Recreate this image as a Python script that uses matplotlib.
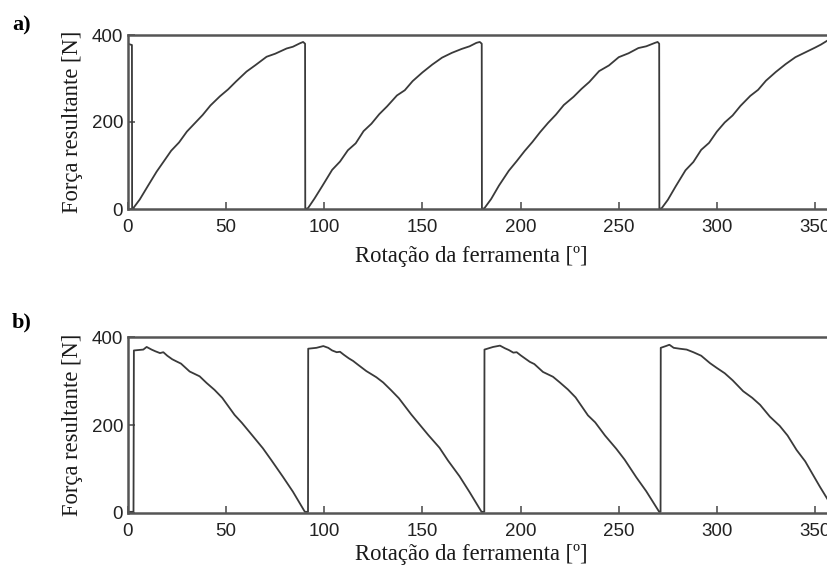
#!/usr/bin/env python3
"""Resultant force vs tool rotation, two milling cases (a, b)."""

import matplotlib
matplotlib.use("Agg")
import matplotlib.pyplot as plt

# panel a) - force rises over each 90 deg cycle, then drops
angle_a = [0.5, 2.0, 2.1, 2.7, 6, 10, 14.6, 18, 22, 26, 30, 34, 38, 42, 46.8, 51, 55,
           60.4, 65, 70.6, 75, 80.8, 84, 87.6, 89.2, 90.2, 90.3,
           91.7, 95, 99, 104, 108, 112, 116, 120, 124, 128, 132, 137, 141, 145,
           150, 155, 160, 165, 170, 174, 177.5, 179.2, 180.2, 180.3,
           181.6, 185, 189, 194, 198, 202, 206, 210, 214, 218, 222, 227, 231, 235,
           240, 245, 250, 255, 260, 264, 268.5, 269.8, 270.6, 270.7,
           271.9, 275, 279, 284, 288, 292, 296, 300, 304, 308, 312, 317, 321, 325,
           330, 335, 340, 345, 350, 353, 356.6]
force_a = [379, 377, 0, 2, 22, 52, 86, 108, 134, 153, 178, 197, 216, 238, 259, 275, 293,
           316, 331, 350, 357, 369, 373, 381, 384, 380, 0,
           2, 24, 53, 90, 109, 135, 151, 179, 196, 218, 236, 261, 273, 294,
           314, 332, 348, 359, 368, 374, 382, 384, 380, 0,
           2, 23, 54, 88, 110, 133, 154, 177, 198, 217, 239, 258, 276, 292,
           317, 330, 349, 358, 370, 374, 382, 384, 380, 0,
           2, 21, 52, 89, 108, 136, 152, 178, 199, 215, 237, 260, 274, 295,
           315, 333, 349, 360, 371, 378, 388]

# panel b) - force jumps up at each cycle start, then falls to zero
angle_b = [0.5, 2.8, 3.0, 7.8, 9.5, 12, 14, 16.3, 18, 20, 22.5, 24.7, 27, 31.4, 36.5,
           40, 44.1, 48, 54.3, 58, 63, 68.7, 73, 78.9, 84, 90.1,
           91.7, 91.8, 96, 99.5, 102, 104, 106.3, 108, 110, 112.5, 114.7, 117, 121.4,
           126.5, 130, 134.1, 138, 144.3, 148, 153, 158.7, 163, 168.9, 174, 180.1,
           181.5, 181.6, 186, 189.5, 192, 194, 196.3, 198, 200, 202.5, 204.7, 207,
           211.4, 216.5, 220, 224.1, 228, 234.3, 238, 243, 248.7, 253, 258.9, 264, 270.6,
           271.3, 271.4, 274, 275.8, 278, 281, 284.6, 288, 292, 296.5, 300, 304,
           308, 313.4, 318, 322, 327, 332, 336, 340.6, 345, 349, 352.5, 356.6]
force_b = [2, 2, 370, 372, 378, 372, 368, 364, 366, 358, 350, 345, 340, 322, 311,
           296, 280, 262, 223, 205, 178, 147, 120, 82, 48, 2,
           2, 374, 376, 380, 376, 370, 366, 367, 360, 352, 346, 338, 323,
           309, 297, 279, 261, 224, 204, 177, 148, 119, 83, 47, 2,
           2, 372, 378, 381, 375, 371, 365, 366, 359, 351, 344, 339, 321, 310,
           297, 281, 263, 222, 206, 176, 146, 121, 81, 49, 2,
           2, 376, 380, 383, 376, 374, 372, 366, 358, 341, 330, 318,
           302, 277, 262, 246, 219, 198, 176, 143, 117, 86, 59, 29]

x_ticks = [0, 50, 100, 150, 200, 250, 300, 350]
y_ticks = [0, 200, 400]
x_label = "Rotação da ferramenta [º]"
y_label = "Força resultante [N]"

W, H = 828, 569
fig = plt.figure(figsize=(W / 100, H / 100), dpi=100)

serif = ["Liberation Serif", "DejaVu Serif"]
line_col = "#3a3a3a"
spine_col = "#555555"


def setup(ax, x, y, label_y):
    ax.plot(x, y, color=line_col, lw=1.3)
    ax.set_xlim(0, 356.6)
    ax.set_ylim(0, 400)
    ax.set_xticks(x_ticks)
    ax.set_yticks(y_ticks)
    ax.tick_params(direction="in", length=5, width=1.2, colors=spine_col,
                   labelcolor="#222222", labelsize=13.5)
    ax.tick_params(axis="x", pad=7.5)
    ax.tick_params(axis="y", pad=3.5)
    for lab in ax.get_xticklabels() + ax.get_yticklabels():
        lab.set_family("Liberation Sans")
    for side in ("left", "bottom", "top"):
        ax.spines[side].set_color(spine_col)
        ax.spines[side].set_linewidth(1.8)
    ax.spines["right"].set_visible(False)
    ax.set_xlabel(x_label, family=serif, fontsize=16.3, color="#1a1a1a")
    ax.set_ylabel(y_label, family=serif, fontsize=16.3, color="#1a1a1a")
    ax.xaxis.set_label_coords(0.49, label_y)
    ax.yaxis.set_label_coords(-0.064, 0.5)


ax_a = fig.add_axes([128 / W, 1 - 209 / H, 700 / W, 174 / H])
setup(ax_a, angle_a, force_a, -0.215)
ax_b = fig.add_axes([128 / W, 1 - 512.7 / H, 700 / W, 175.4 / H])
setup(ax_b, angle_b, force_b, -0.18)

fig.text(12 / W, 1 - 25 / H, "a)", family=serif, fontsize=16, weight="bold",
         ha="left", va="center")
fig.text(12 / W, 1 - 322 / H, "b)", family=serif, fontsize=16, weight="bold",
         ha="left", va="center")

fig.savefig("out.png", dpi=100)
